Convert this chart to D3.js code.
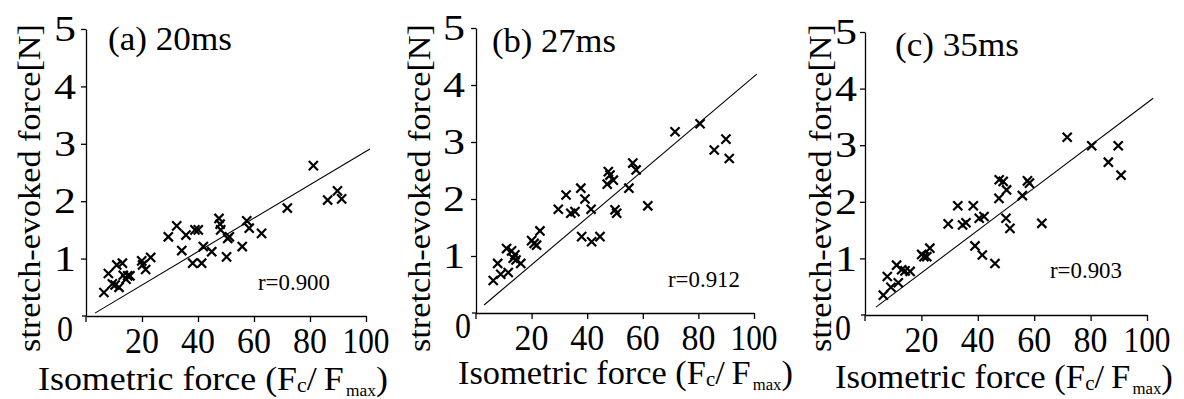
<!DOCTYPE html>
<html>
<head>
<meta charset="utf-8">
<script src="https://cdn.jsdelivr.net/npm/d3@7"></script>
<style>
  body { margin: 0; background: #fff; }
  svg { display: block; font-family: "Liberation Serif", "Times New Roman", serif; }
</style>
</head>
<body>
<svg width="1184" height="399"></svg>
<script>
// tick labels
const xTicks = [20, 40, 60, 80, 100];
const yTicks = [1, 2, 3, 4, 5];

// (a) 20ms
const isoA = [6.4, 8.0, 9.4, 10.4, 11.0, 11.8, 13.0, 13.3, 14.3, 14.9, 15.7, 19.9, 20.2, 21.3, 23.1,
  29.4, 32.4, 34.2, 35.7, 38.1, 38.9, 40.1, 41.3, 41.9, 44.9, 47.5, 47.9, 48.1, 50.2, 50.6, 51.2,
  55.8, 57.4, 58.3, 62.7, 71.9, 81.2, 86.3, 89.8, 91.3];
const evokedA = [0.41, 0.74, 0.56, 0.54, 0.89, 0.50, 0.92, 0.71, 0.64, 0.70, 0.70, 0.96, 0.89, 0.81, 1.02,
  1.38, 1.57, 1.14, 1.41, 0.92, 1.50, 1.50, 0.92, 1.21, 1.12, 1.70, 1.60, 1.50, 1.03, 1.35, 1.38,
  1.21, 1.66, 1.53, 1.44, 1.88, 2.62, 2.02, 2.18, 2.04];
const fitA = [[3.2, 0.05], [101.4, 2.91]];

// (b) 27ms
const isoB = [6.2, 7.8, 8.9, 11.0, 11.6, 12.8, 13.4, 14.0, 14.4, 16.1, 20.0, 20.9, 21.8, 23.0,
  29.6, 32.4, 34.1, 35.6, 37.7, 38.0, 39.2, 41.4, 41.6, 44.6, 47.2, 47.6, 48.2, 49.4, 50.0, 50.6,
  55.0, 56.4, 57.6, 61.8, 71.6, 80.6, 85.7, 89.9, 91.1];
const evokedB = [0.57, 0.87, 0.68, 1.13, 0.71, 1.09, 0.96, 1.02, 0.93, 0.87, 1.27, 1.22, 1.19, 1.44,
  1.82, 2.07, 1.75, 1.78, 2.19, 1.34, 2.00, 1.82, 1.25, 1.34, 2.26, 2.48, 2.42, 2.33, 1.81, 1.75,
  2.19, 2.63, 2.51, 1.88, 3.18, 3.32, 2.86, 3.05, 2.71];
const fitB = [[2.9, 0.14], [101.0, 4.19]];

// (c) 35ms
const isoC = [6.5, 7.9, 9.2, 11.2, 11.8, 13.0, 14.2, 16.0, 20.1, 20.9, 21.9, 23.0,
  29.5, 32.9, 34.6, 35.8, 38.4, 39.0, 40.5, 41.6, 42.2, 46.1, 47.5, 47.6, 49.0, 50.2, 50.0, 51.4,
  55.8, 57.6, 58.3, 62.7, 71.7, 80.4, 86.3, 89.8, 90.8];
const evokedC = [0.35, 0.68, 0.49, 0.88, 0.57, 0.80, 0.78, 0.77, 1.07, 1.03, 1.03, 1.18,
  1.61, 1.93, 1.59, 1.63, 1.93, 1.22, 1.71, 1.06, 1.74, 0.91, 2.06, 2.39, 2.36, 2.21, 1.71, 1.53,
  2.11, 2.37, 2.33, 1.62, 3.14, 2.99, 2.70, 2.99, 2.47];
const fitC = [[3.9, 0.14], [102.2, 3.83]];

const panels = [
  { title: '(a) 20ms', r: 'r=0.900', iso: isoA, ev: evokedA, fit: fitA,
    x0: 86, x1: 366, y0: 316, y5: 29, yLabGap: 10,
    titleX: 108, titleY: 50, rX: 258, rY: 290, yTitleX: 40, zeroX: 65, xTitleX: 38, xTitleY: 390, xTitleW: 350 },
  { title: '(b) 27ms', r: 'r=0.912', iso: isoB, ev: evokedB, fit: fitB,
    x0: 476, x1: 754, y0: 313, y5: 28, yLabGap: 11,
    titleX: 492, titleY: 52, rX: 668, rY: 287, yTitleX: 430, zeroX: 463, xTitleX: 458, xTitleY: 384, xTitleW: 335 },
  { title: '(c) 35ms', r: 'r=0.903', iso: isoC, ev: evokedC, fit: fitC,
    x0: 865, x1: 1147, y0: 315, y5: 32, yLabGap: 8,
    titleX: 895, titleY: 56, rX: 1050, rY: 278, yTitleX: 831, zeroX: 843, xTitleX: 835, xTitleY: 388, xTitleW: 338 }
];

const svg = d3.select('svg');

// squeeze/stretch a text horizontally (in its own frame) to a target width
function fitText(t, w, anchor) {
  const b = t.node().getBBox();
  const ax = anchor === 'end' ? b.x + b.width : anchor === 'middle' ? b.x + b.width / 2 : b.x;
  const s = w / b.width;
  t.attr('transform', `translate(${ax},0) scale(${s},1) translate(${-ax},0)`);
}

panels.forEach(p => {
  const x = d3.scaleLinear().domain([0, 100]).range([p.x0, p.x1]);
  const y = d3.scaleLinear().domain([0, 5]).range([p.y0, p.y5]);
  const g = svg.append('g');

  // axes (labels drawn separately below)
  g.append('g')
    .attr('transform', `translate(0,${p.y0})`)
    .call(d3.axisBottom(x).tickValues(xTicks).tickSize(6).tickSizeOuter(0).tickFormat(''));
  g.append('g')
    .attr('transform', `translate(${p.x0},0)`)
    .call(d3.axisLeft(y).tickValues(yTicks).tickSize(5).tickSizeOuter(0).tickFormat(''));
  g.selectAll('.domain').attr('stroke', '#000').attr('stroke-width', 1.3);
  g.selectAll('.tick line').attr('stroke', '#000').attr('stroke-width', 1.3);
  // little overhang at the origin
  g.append('line').attr('x1', p.x0 - 4).attr('x2', p.x0).attr('y1', p.y0).attr('y2', p.y0)
    .attr('stroke', '#000').attr('stroke-width', 1.3);
  g.append('line').attr('x1', p.x0).attr('x2', p.x0).attr('y1', p.y0).attr('y2', p.y0 + 6)
    .attr('stroke', '#000').attr('stroke-width', 1.3);

  // tick labels
  g.selectAll('text.xl')
    .data(xTicks)
    .join('text')
    .attr('class', 'xl')
    .attr('x', d => x(d)).attr('y', p.y0 + 37)
    .attr('text-anchor', 'middle').attr('font-size', 36)
    .text(d => d)
    .each(function(d) { fitText(d3.select(this), d === 100 ? 47 : 34, 'middle'); });
  g.selectAll('text.yl')
    .data(yTicks)
    .join('text')
    .attr('class', 'yl')
    .attr('x', p.x0 - p.yLabGap).attr('y', d => y(d)).attr('dy', '0.34em')
    .attr('text-anchor', 'end').attr('font-size', 36)
    .text(d => d)
    .each(function() { fitText(d3.select(this), 22, 'end'); });

  // "0" at the origin
  const z = g.append('text').attr('x', p.zeroX).attr('y', p.y0 + 25)
    .attr('text-anchor', 'middle').attr('font-size', 36).text('0');
  fitText(z, 16, 'middle');

  // regression line
  g.append('line')
    .attr('x1', x(p.fit[0][0])).attr('y1', y(p.fit[0][1]))
    .attr('x2', x(p.fit[1][0])).attr('y2', y(p.fit[1][1]))
    .attr('stroke', '#000').attr('stroke-width', 1.1);

  // markers
  const sym = d3.symbol().type(d3.symbolX).size(56);
  g.selectAll('path.pt')
    .data(p.iso.map((v, i) => [v, p.ev[i]]))
    .join('path')
    .attr('class', 'pt')
    .attr('d', sym)
    .attr('transform', d => `translate(${x(d[0])},${y(d[1])})`)
    .attr('fill', 'none')
    .attr('stroke', '#000')
    .attr('stroke-width', 2.2);

  // panel title
  const t = g.append('text').attr('x', p.titleX).attr('y', p.titleY)
    .attr('font-size', 33).text(p.title);
  fitText(t, 124, 'start');

  // r value
  const r = g.append('text').attr('x', p.rX).attr('y', p.rY)
    .attr('font-size', 24).text(p.r);
  fitText(r, 72, 'start');

  // y axis title
  const yt = g.append('g')
    .attr('transform', `translate(${p.yTitleX},352) rotate(-90)`)
    .append('text').attr('x', 0).attr('y', 0)
    .attr('font-size', 31).text('stretch-evoked force[N]');
  fitText(yt, 328, 'start');

  // x axis title
  const xt = g.append('text').attr('x', p.xTitleX).attr('y', p.xTitleY).attr('font-size', 33);
  xt.append('tspan').text('Isometric force (F');
  xt.append('tspan').attr('font-size', 20).attr('dy', 2).text('c');
  xt.append('tspan').attr('dy', -2).text('/\u2009F');
  xt.append('tspan').attr('font-size', 16).attr('dy', 6).attr('dx', 2).text('max');
  xt.append('tspan').attr('dy', -6).text(')');
  fitText(xt, p.xTitleW, 'start');
});
</script>
</body>
</html>
